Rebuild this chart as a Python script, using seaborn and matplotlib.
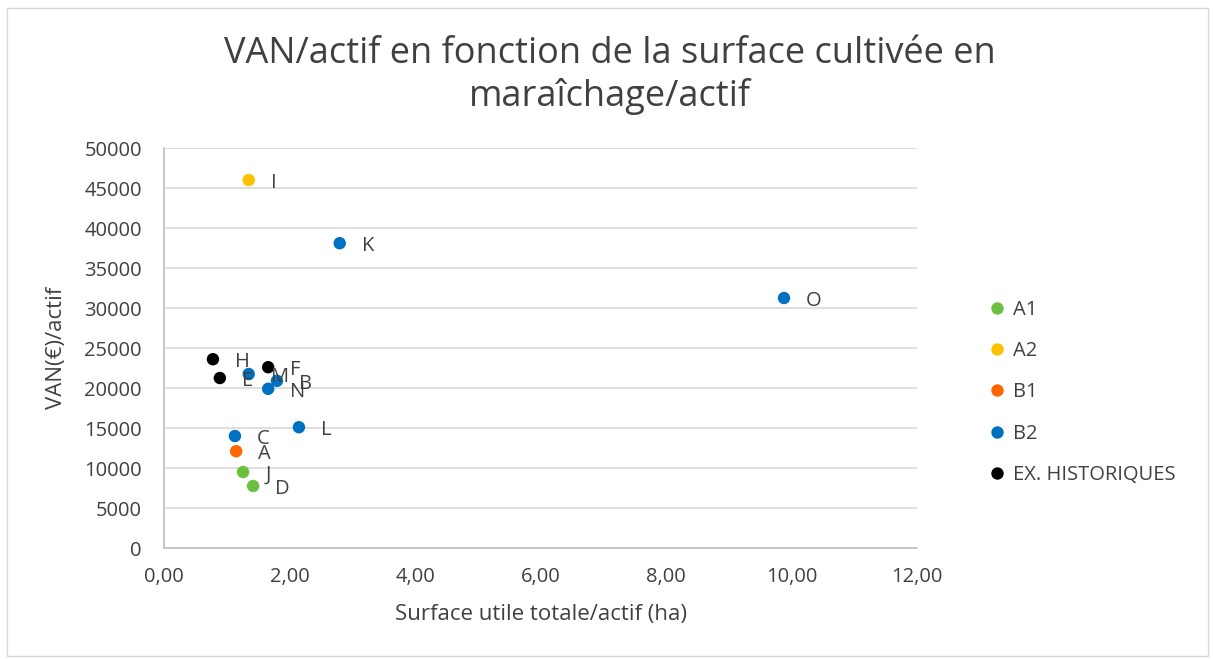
import pandas as pd
import matplotlib
matplotlib.use('Agg')
import matplotlib.pyplot as plt
import seaborn as sns
from matplotlib.patches import Rectangle

# data
labels = ['I', 'K', 'O', 'H', 'E', 'F', 'M', 'B', 'N', 'L', 'C', 'A', 'J', 'D']
groups = ['A2', 'B2', 'B2', 'EX. HISTORIQUES', 'EX. HISTORIQUES', 'EX. HISTORIQUES',
          'B2', 'B2', 'B2', 'B2', 'B2', 'B1', 'A1', 'A1']
surface = [1.35, 2.80, 9.88, 0.78, 0.89, 1.66, 1.35, 1.80, 1.66, 2.15, 1.13, 1.15, 1.26, 1.42]
van = [46000, 38100, 31250, 23600, 21250, 22600, 21750, 20900, 19900, 15100, 14000, 12100, 9500, 7750]

group_order = ['A1', 'A2', 'B1', 'B2', 'EX. HISTORIQUES']
colors = ['#6cbf3f', '#ffc000', '#ff6600', '#0070c0', '#000000']

df = pd.DataFrame({'label': labels, 'groupe': groups, 'surface': surface, 'van': van})

sns.set_style('white')
plt.rcParams['font.family'] = ['Open Sans', 'DejaVu Sans']
txt = '#404040'

fig = plt.figure(figsize=(12.13, 6.59), dpi=100)
ax = fig.add_axes([0.1352, 0.1684, 0.6208, 0.607])

sns.scatterplot(data=df, x='surface', y='van', hue='groupe', hue_order=group_order,
                palette=colors, s=80, edgecolor='none', ax=ax, zorder=3)

for lab, xv, yv in zip(labels, surface, van):
    ax.annotate(lab, (xv, yv), xytext=(16, -2), textcoords='offset points',
                fontsize=14.5, color=txt, va='center', ha='left', zorder=4)

ax.set_xlim(0, 12)
ax.set_ylim(0, 50000)
ax.set_xticks(range(0, 13, 2))
ax.set_xticklabels([f'{v:.2f}'.replace('.', ',') for v in range(0, 13, 2)])
ax.set_yticks(range(0, 50001, 5000))
ax.grid(axis='y', color='#d9d9d9', linewidth=1.2)
ax.grid(axis='x', visible=False)
for side in ['top', 'right']:
    ax.spines[side].set_visible(False)
for side in ['left', 'bottom']:
    ax.spines[side].set_color('#bfbfbf')
    ax.spines[side].set_linewidth(1.2)
ax.tick_params(axis='y', labelsize=14.5, colors=txt, length=0, pad=16)
ax.tick_params(axis='x', labelsize=14.5, colors=txt, length=0, pad=14)
ax.set_xlabel('Surface utile totale/actif (ha)', fontsize=16, color=txt, labelpad=12)
ax.set_ylabel('VAN(€)/actif', fontsize=16, color=txt, labelpad=12)

fig.suptitle('VAN/actif en fonction de la surface cultivée en\nmaraîchage/actif',
             x=0.503, y=0.945, fontsize=26, color=txt, linespacing=1.2)

ax.legend(loc='upper left', bbox_to_anchor=(1.055, 0.665), frameon=False,
          fontsize=14.5, labelcolor=txt, handletextpad=-0.2, labelspacing=1.05,
          markerscale=1.0)

fig.patches.append(Rectangle((0.006, 0.004), 0.99, 0.984, transform=fig.transFigure,
                             fill=False, edgecolor='#d9d9d9', linewidth=1))

fig.savefig('out.png', dpi=100)
